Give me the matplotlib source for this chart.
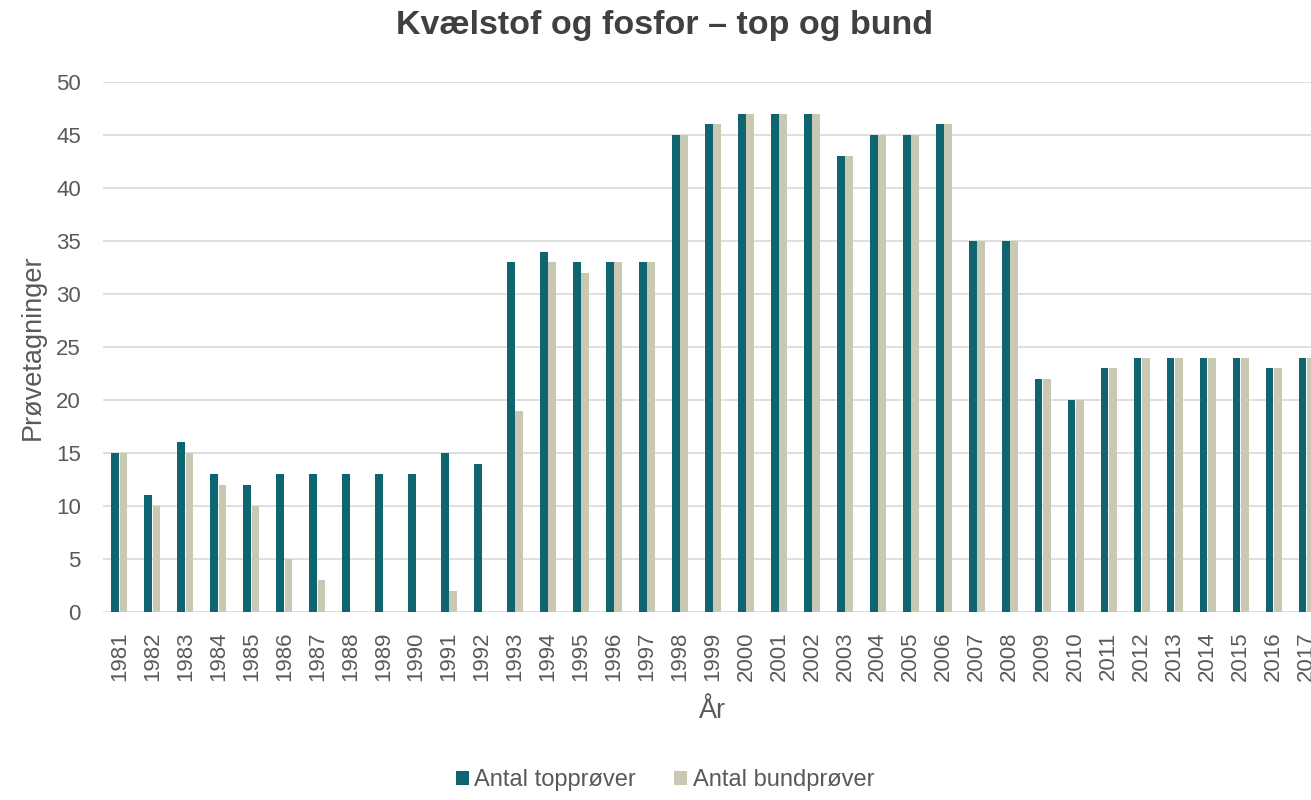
import numpy as np
import matplotlib
matplotlib.use("Agg")
import matplotlib.pyplot as plt

years = [str(y) for y in range(1981, 2018)]
top_samples = [15, 11, 16, 13, 12, 13, 13, 13, 13, 13, 15, 14, 33, 34, 33, 33, 33,
               45, 46, 47, 47, 47, 43, 45, 45, 46, 35, 35, 22, 20, 23, 24, 24, 24,
               24, 23, 24]
bottom_samples = [15, 10, 15, 12, 10, 5, 3, 0, 0, 0, 2, 0, 19, 33, 32, 33, 33,
                  45, 46, 47, 47, 47, 43, 45, 45, 46, 35, 35, 22, 20, 23, 24, 24, 24,
                  24, 23, 24]

TEAL = "#0e6570"
BEIGE = "#c9c8b2"
TEXT = "#595959"

plt.rcParams["font.family"] = ["Liberation Sans", "DejaVu Sans"]

fig = plt.figure(figsize=(13.11, 8), dpi=100)
# plot area runs off the right edge, as in the original
ax = fig.add_axes([103 / 1311, 188 / 800, 1220 / 1311, 530 / 800])

x = np.arange(len(years))
w = 0.235
ax.bar(x - 0.125, top_samples, width=w, color=TEAL, label="Antal topprøver", zorder=3)
ax.bar(x + 0.125, bottom_samples, width=w, color=BEIGE, label="Antal bundprøver", zorder=3)

ax.set_xlim(-0.5, len(years) - 0.5)
ax.set_ylim(0, 50)
ax.set_yticks(range(0, 51, 5))
ax.set_xticks(x)
ax.set_xticklabels(years, rotation=90)
ax.tick_params(axis="both", length=0, labelsize=16, colors=TEXT)
ax.tick_params(axis="x", pad=14)
ax.tick_params(axis="y", pad=16)
ax.grid(axis="y", color="#d9d9d9", linewidth=1.2, zorder=0)
for s in ax.spines.values():
    s.set_visible(False)

ax.set_ylabel("Prøvetagninger", fontsize=19.5, color=TEXT, labelpad=7)
ax.set_xlabel("År", fontsize=19.5, color=TEXT, labelpad=12)

fig.suptitle("Kvælstof og fosfor – top og bund", fontsize=24.5, fontweight="bold",
             color="#404040", x=665 / 1311, y=0.988)

fig.legend(loc="center", bbox_to_anchor=(665 / 1311, 20 / 800), ncol=2, frameon=False,
           fontsize=17, labelcolor=TEXT, handlelength=0.55, handleheight=0.55,
           handletextpad=0.25, columnspacing=1.6)

fig.savefig("out.png", dpi=100)
